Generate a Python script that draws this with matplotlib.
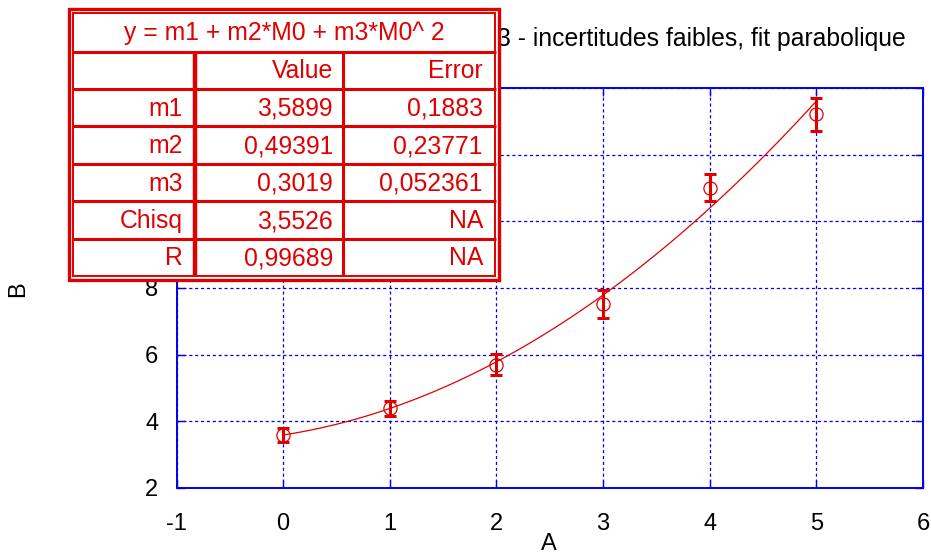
import numpy as np
import matplotlib
matplotlib.use("Agg")
import matplotlib.pyplot as plt
from matplotlib.patches import Rectangle

plt.rcParams['font.family'] = ['Liberation Sans', 'DejaVu Sans']
plt.rcParams['axes.unicode_minus'] = False

# data
A = [0, 1, 2, 3, 4, 5]
B = [3.59, 4.39, 5.70, 7.51, 11.01, 13.21]
B_err = [0.22, 0.23, 0.32, 0.42, 0.41, 0.50]

x_ticks = [-1, 0, 1, 2, 3, 4, 5, 6]
y_ticks = [2, 4, 6, 8, 10, 12, 14]

# fit table as shown
fit_title = "y = m1 + m2*M0 + m3*M0^ 2"
col_heads = ["", "Value", "Error"]
row_names = ["m1", "m2", "m3", "Chisq", "R"]
values = ["3,5899", "0,49391", "0,3019", "3,5526", "0,99689"]
errors = ["0,1883", "0,23771", "0,052361", "NA", "NA"]

title = "3 - incertitudes faibles, fit parabolique"

RED = "#e00000"
BLUE = "#0000ee"
W, H = 931, 555

fig = plt.figure(figsize=(W / 100, H / 100), dpi=100)
ax = fig.add_axes([176.5 / W, 1 - 488 / H, (923 - 176.5) / W, (488 - 88) / H])

# parabola from the fitted parameters in the table
m = [float(v.replace(",", ".")) for v in values[:3]]
xf = np.linspace(A[0], A[-1], 60)
ax.plot(xf, m[0] + m[1] * xf + m[2] * xf ** 2, color=RED, lw=0.9, zorder=3)

ax.errorbar(A, B, yerr=B_err, fmt="none", ecolor=RED, elinewidth=2.2,
            capsize=4, capthick=2.2, zorder=4)
ax.plot(A, B, "o", mfc="none", mec=RED, ms=9.5, mew=0.9, zorder=5)

ax.set_xlim(-1, 6)
ax.set_ylim(2, 14)
ax.set_xticks(x_ticks)
ax.set_yticks(y_ticks)
ax.grid(True, color=BLUE, ls=(0, (2.5, 2.2)), lw=0.9)
for s in ax.spines.values():
    s.set_color(BLUE)
    s.set_linewidth(1.4)
ax.tick_params(direction="in", length=6, width=1, color=BLUE,
               top=True, right=True, labelsize=17)
ax.tick_params(axis="x", pad=18)
ax.tick_params(axis="y", pad=13)
# labels 10..14 sit under the fit table in the original
for t in ax.get_yticklabels():
    if float(t.get_position()[1]) >= 10:
        t.set_visible(False)

fig.text(497 / W, 1 - 39 / H, title, fontsize=17.8, ha="left", va="center")
fig.text(18 / W, 1 - 289 / H, "B", fontsize=17, rotation=90, ha="center", va="center")
fig.text(549 / W, 1 - 550 / H, "A", fontsize=17, ha="center", va="baseline")

# table overlay drawn in pixel coordinates
tab = fig.add_axes([0, 0, 1, 1], zorder=10)
tab.set_xlim(0, W)
tab.set_ylim(H, 0)
tab.axis("off")
tab.add_patch(Rectangle((67.5, 7), 433, 274.5, fc="white", ec="none"))
tab.add_patch(Rectangle((69, 8.7), 430, 271.5, fc="none", ec=RED, lw=2.4))
tab.add_patch(Rectangle((73.2, 13.2), 422, 263, fc="none", ec=RED, lw=1.4))

row_lines = [52, 88.7, 126.3, 163.8, 201.3, 238.7]
for yl in row_lines:
    tab.plot([73, 496], [yl, yl], color=RED, lw=2.2, solid_capstyle="butt")
tab.plot([195, 195], [52, 276], color=RED, lw=3.2, solid_capstyle="butt")
tab.plot([343.3, 343.3], [52, 276], color=RED, lw=2.2, solid_capstyle="butt")

fs = 17.8
tab.text(284, 33, fit_title, color=RED, fontsize=fs, ha="center", va="center")
row_y = [(a + b) / 2 for a, b in zip(row_lines, row_lines[1:] + [275.5])]
col_x = [183, 333, 483]
for c, head in enumerate(col_heads):
    tab.text(col_x[c], row_y[0] + 1, head, color=RED, fontsize=fs, ha="right", va="center")
for i, (name, v, e) in enumerate(zip(row_names, values, errors)):
    y = row_y[i + 1] + 1
    tab.text(col_x[0], y, name, color=RED, fontsize=fs, ha="right", va="center")
    tab.text(col_x[1], y, v, color=RED, fontsize=fs, ha="right", va="center")
    tab.text(col_x[2], y, e, color=RED, fontsize=fs, ha="right", va="center")

fig.savefig("out.png", dpi=100)
